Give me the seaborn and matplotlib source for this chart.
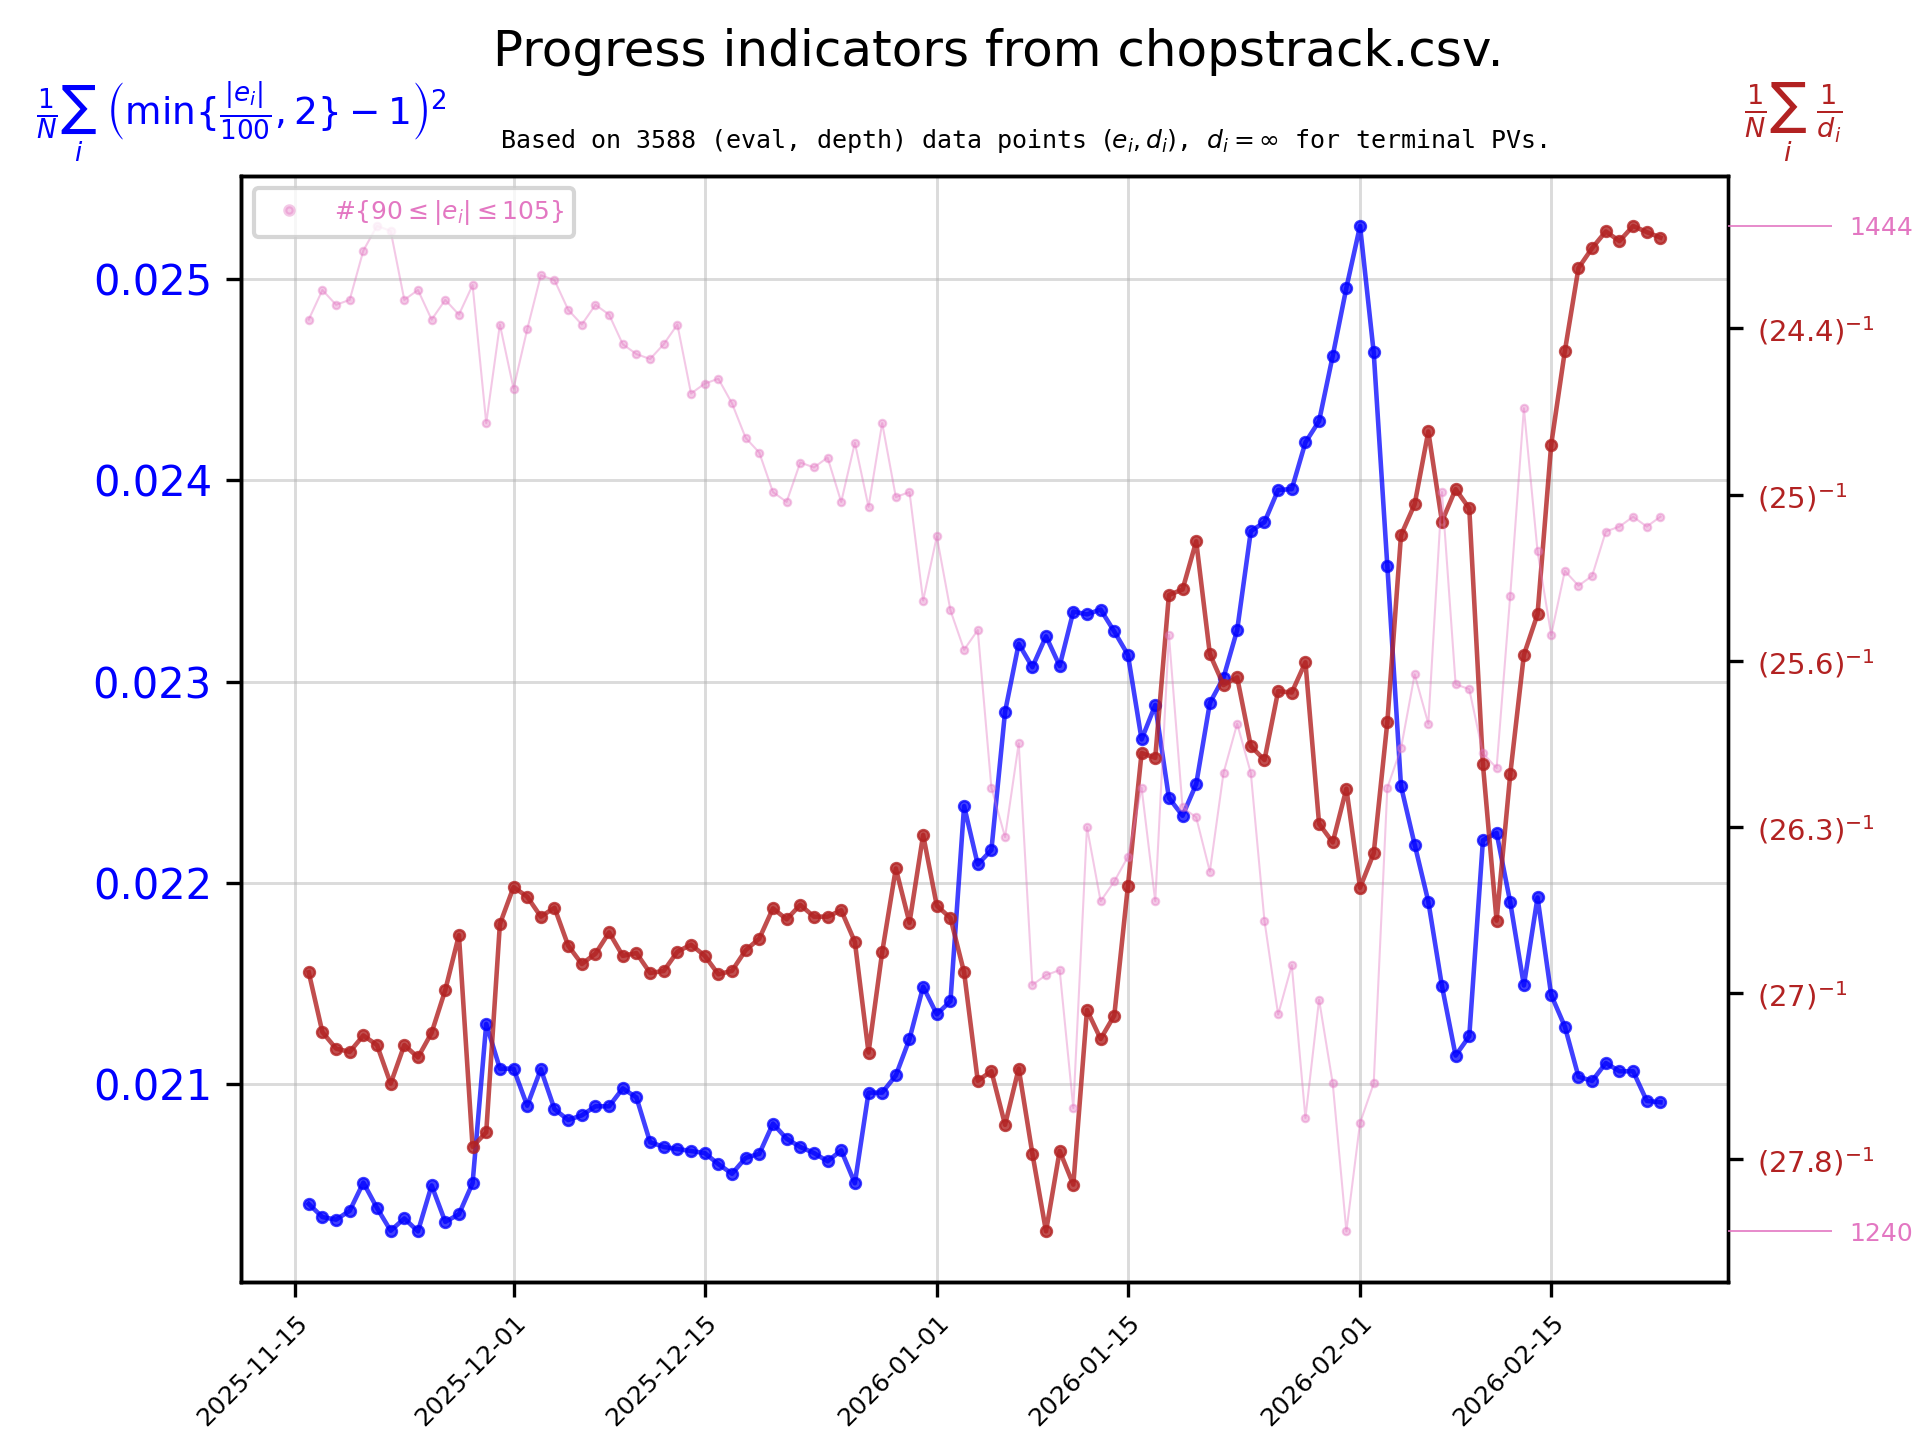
import numpy as np
import pandas as pd
import matplotlib
matplotlib.use('Agg')
import matplotlib.pyplot as plt
import matplotlib.dates as mdates
from matplotlib.ticker import MultipleLocator, FuncFormatter, FixedLocator
from matplotlib.lines import Line2D
import seaborn as sns

# ---- data (one point per day) ----
first_day = '2025-11-16'
n_days = 100

# 1/N sum (min{|e|/100, 2} - 1)^2
eval_score = [
    0.020406, 0.020341, 0.020328, 0.020372, 0.020512, 0.020386, 0.020273, 0.020334, 0.020270, 0.020498,
    0.020317, 0.020355, 0.020509, 0.021300, 0.021078, 0.021078, 0.020894, 0.021075, 0.020877, 0.020823,
    0.020846, 0.020891, 0.020891, 0.020980, 0.020935, 0.020713, 0.020689, 0.020679, 0.020669, 0.020659,
    0.020604, 0.020556, 0.020635, 0.020655, 0.020805, 0.020730, 0.020689, 0.020659, 0.020618, 0.020672,
    0.020509, 0.020959, 0.020959, 0.021044, 0.021225, 0.021485, 0.021348, 0.021413, 0.022382, 0.022092,
    0.022164, 0.022850, 0.023188, 0.023072, 0.023225, 0.023078, 0.023348, 0.023334, 0.023358, 0.023249,
    0.023133, 0.022713, 0.022884, 0.022423, 0.022334, 0.022491, 0.022894, 0.023020, 0.023256, 0.023747,
    0.023792, 0.023952, 0.023956, 0.024188, 0.024294, 0.024618, 0.024956, 0.025263, 0.024635, 0.023573,
    0.022481, 0.022191, 0.021908, 0.021488, 0.021143, 0.021239, 0.022212, 0.022249, 0.021904, 0.021491,
    0.021928, 0.021444, 0.021287, 0.021038, 0.021017, 0.021106, 0.021065, 0.021065, 0.020918, 0.020911,
]

# 1/N sum 1/d
inv_depth = [
    0.037125, 0.036765, 0.036666, 0.036646, 0.036745, 0.036687, 0.036455, 0.036687, 0.036613, 0.036761,
    0.037018, 0.037349, 0.036075, 0.036162, 0.037415, 0.037638, 0.037580, 0.037460, 0.037514, 0.037286,
    0.037175, 0.037237, 0.037365, 0.037224, 0.037241, 0.037121, 0.037133, 0.037249, 0.037291, 0.037225,
    0.037113, 0.037134, 0.037258, 0.037328, 0.037510, 0.037444, 0.037531, 0.037460, 0.037460, 0.037498,
    0.037308, 0.036642, 0.037246, 0.037750, 0.037423, 0.037952, 0.037526, 0.037452, 0.037125, 0.036472,
    0.036530, 0.036207, 0.036546, 0.036034, 0.035566, 0.036050, 0.035847, 0.036898, 0.036724, 0.036865,
    0.037646, 0.038445, 0.038416, 0.039396, 0.039429, 0.039719, 0.039040, 0.038854, 0.038900, 0.038486,
    0.038403, 0.038817, 0.038809, 0.038991, 0.038019, 0.037907, 0.038230, 0.037634, 0.037841, 0.038631,
    0.039756, 0.039942, 0.040380, 0.039838, 0.040033, 0.039917, 0.038376, 0.037436, 0.038316, 0.039036,
    0.039280, 0.040301, 0.040864, 0.041364, 0.041484, 0.041584, 0.041526, 0.041617, 0.041580, 0.041547,
]

# #{90 <= |e| <= 105}
near_count = [
    1425, 1431, 1428, 1429, 1439, 1444, 1443, 1429, 1431, 1425,
    1429, 1426, 1432, 1404, 1424, 1411, 1423, 1434, 1433, 1427,
    1424, 1428, 1426, 1420, 1418, 1417, 1420, 1424, 1410, 1412,
    1413, 1408, 1401, 1398, 1390, 1388, 1396, 1395, 1397, 1388,
    1400, 1387, 1404, 1389, 1390, 1368, 1381, 1366, 1358, 1362,
    1330, 1320, 1339, 1290, 1292, 1293, 1265, 1322, 1307, 1311,
    1316, 1330, 1307, 1361, 1326, 1324, 1313, 1333, 1343, 1333,
    1303, 1284, 1294, 1263, 1287, 1270, 1240, 1262, 1270, 1330,
    1338, 1353, 1343, 1390, 1351, 1350, 1337, 1334, 1369, 1407,
    1378, 1361, 1374, 1371, 1373, 1382, 1383, 1385, 1383, 1385,
]

df = pd.DataFrame({
    'date': pd.date_range(first_day, periods=n_days, freq='D'),
    'eval': eval_score,
    'invd': inv_depth,
    'count': near_count,
})

BLUE = 'blue'
RED = 'firebrick'
PINK = 'tab:pink'

fig, ax = plt.subplots(figsize=(6.4, 4.8), dpi=300)
fig.subplots_adjust(left=0.1256, right=0.900, top=0.878, bottom=0.110)
ax2 = ax.twinx()
ax3 = ax.twinx()

# blue: eval indicator
sns.lineplot(data=df, x='date', y='eval', ax=ax, color=BLUE, alpha=0.75,
             linewidth=1.1, marker='o', markersize=2.6,
             markeredgecolor=BLUE, markeredgewidth=0.6, legend=False)
# red: depth indicator
sns.lineplot(data=df, x='date', y='invd', ax=ax2, color=RED, alpha=0.8,
             linewidth=1.1, marker='o', markersize=2.6,
             markeredgecolor=RED, markeredgewidth=0.6, legend=False)
# pink: count of near-100 evals
sns.lineplot(data=df, x='date', y='count', ax=ax3, color=PINK, alpha=0.4,
             linewidth=0.5, marker='o', markersize=1.8,
             markeredgecolor=PINK, markeredgewidth=0.5, legend=False)

for a in (ax, ax2, ax3):
    a.set_xlabel('')
    a.set_ylabel('')

# x axis
ax.xaxis.set_major_locator(mdates.DayLocator(bymonthday=[1, 15]))
ax.xaxis.set_major_formatter(mdates.DateFormatter('%Y-%m-%d'))
ax.tick_params(axis='x', labelsize=6)
plt.setp(ax.get_xticklabels(), rotation=45, ha='right', rotation_mode='anchor')

# left axis
ax.yaxis.set_major_locator(MultipleLocator(0.001))
ax.tick_params(axis='y', labelsize=10, labelcolor=BLUE)
ax.grid(True, color='#b0b0b0', alpha=0.45, linewidth=0.7)

# right axis: 1/d shown as (d)^-1
ax2.yaxis.set_major_locator(MultipleLocator(0.001))
ax2.yaxis.set_major_formatter(FuncFormatter(lambda v, p: r'$(%s)^{-1}$' % f'{1 / v:.3g}'))
ax2.tick_params(axis='y', labelsize=7, labelcolor=RED)

# third axis: only min and max
ax3.yaxis.set_major_locator(FixedLocator([min(near_count), max(near_count)]))
ax3.tick_params(axis='y', labelsize=6, labelcolor=PINK, color=PINK,
                length=25, width=0.4, pad=4)
ax3.spines['right'].set_visible(False)

handle = Line2D([], [], linestyle='none', marker='o', markersize=2.0,
                color=PINK, alpha=0.4)
ax3.legend([handle], [r'$\#\{90 \leq |e_i| \leq 105\}$'], loc='upper left',
           fontsize=6, labelcolor=PINK)

# titles and axis formulas
fig.text(0.520, 0.964, 'Progress indicators from chopstrack.csv.',
         ha='center', va='center', fontsize=12)
fig.text(0.533, 0.902,
         r'Based on 3588 (eval, depth) data points $(e_i,d_i)$, $d_i=\infty$ for terminal PVs.',
         ha='center', va='center', fontsize=6, family='monospace')
fig.text(0.019, 0.915,
         r'$\frac{1}{N}\sum_i\ \left(\min\{\frac{|e_i|}{100},2\}-1\right)^2$',
         ha='left', va='center', fontsize=9.0, color=BLUE)
fig.text(0.934, 0.915, r'$\frac{1}{N}\sum_i\ \frac{1}{d_i}$',
         ha='center', va='center', fontsize=9.3, color=RED)

fig.savefig('out.png', dpi=300)
